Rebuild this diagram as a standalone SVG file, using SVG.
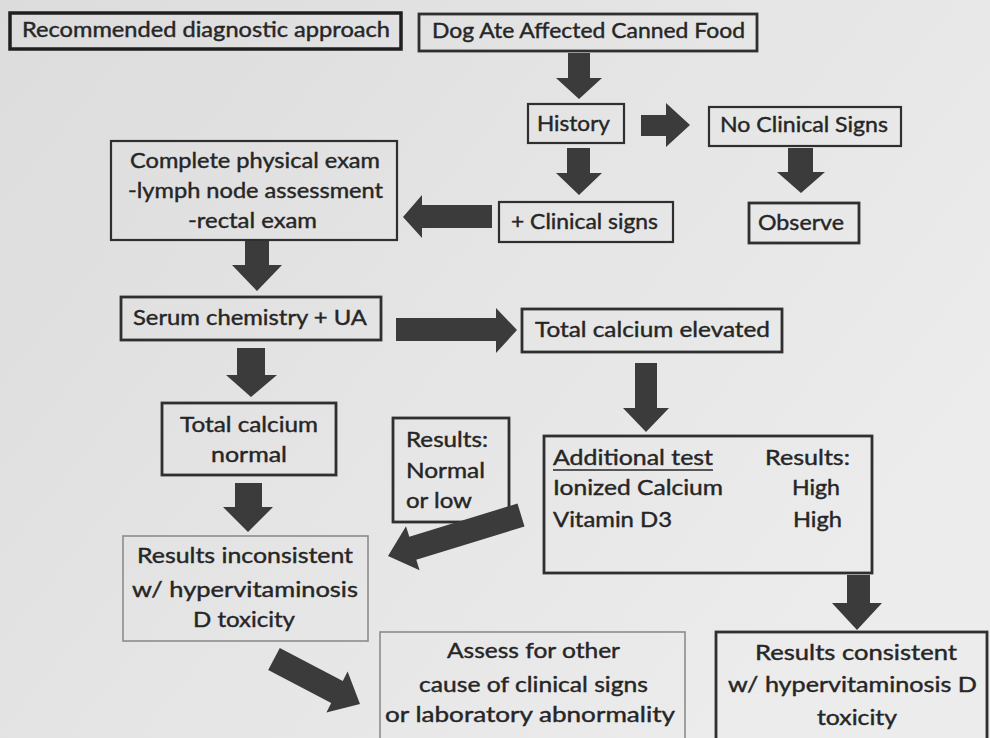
<svg xmlns="http://www.w3.org/2000/svg" width="990" height="738" viewBox="0 0 990 738">
<defs>
<linearGradient id="bg" x1="0" y1="0" x2="1" y2="0.6">
<stop offset="0" stop-color="#dcdcdc"/>
<stop offset="0.6" stop-color="#e6e6e6"/>
<stop offset="1" stop-color="#ececec"/>
</linearGradient>
<style>
.box{fill:none;stroke:#2f2f2f;stroke-width:2.2}
.thick{stroke-width:3.5;stroke:#1f1f1f}
.med{stroke-width:2.8}
.light{stroke:#8c8c8c;stroke-width:1.6}
.t{font-family:Lato,"Liberation Sans",sans-serif;font-size:20.5px;fill:#262626;stroke:#262626;stroke-width:0.4}
.c{text-anchor:middle}
.arr{fill:#3b3b3b}
</style>
</defs>
<rect x="0" y="0" width="990" height="738" fill="url(#bg)"/>

<g id="n-recommended">
<rect class="box thick" x="10" y="13" width="391" height="36"/>
<text class="t c" x="206" y="37" textLength="368" lengthAdjust="spacingAndGlyphs">Recommended diagnostic approach</text>
</g>
<g id="n-dog">
<rect class="box med" x="419" y="14" width="338" height="37"/>
<text class="t c" x="588.5" y="38" textLength="313" lengthAdjust="spacingAndGlyphs">Dog Ate Affected Canned Food</text>
</g>
<g id="n-history">
<rect class="box" x="528" y="104" width="96" height="39"/>
<text class="t c" x="573.5" y="131" textLength="73" lengthAdjust="spacingAndGlyphs">History</text>
</g>
<g id="n-noclinical">
<rect class="box" x="709" y="107" width="192" height="39"/>
<text class="t c" x="804" y="132" textLength="168" lengthAdjust="spacingAndGlyphs">No Clinical Signs</text>
</g>
<g id="n-plusclinical">
<rect class="box" x="499" y="202" width="174" height="40"/>
<text class="t c" x="584.5" y="229" textLength="147" lengthAdjust="spacingAndGlyphs">+ Clinical signs</text>
</g>
<g id="n-observe">
<rect class="box med" x="749" y="203" width="110" height="40"/>
<text class="t c" x="801" y="230" textLength="86" lengthAdjust="spacingAndGlyphs">Observe</text>
</g>
<g id="n-physical">
<rect class="box" x="111" y="141" width="286" height="99"/>
<text class="t c" x="255" y="168" textLength="250" lengthAdjust="spacingAndGlyphs">Complete physical exam</text>
<text class="t c" x="255.5" y="198" textLength="255" lengthAdjust="spacingAndGlyphs">-lymph node assessment</text>
<text class="t c" x="252.5" y="228" textLength="129" lengthAdjust="spacingAndGlyphs">-rectal exam</text>
</g>
<g id="n-serum">
<rect class="box med" x="121" y="297" width="260" height="43"/>
<text class="t c" x="250" y="325" textLength="234" lengthAdjust="spacingAndGlyphs">Serum chemistry + UA</text>
</g>
<g id="n-elevated">
<rect class="box med" x="522" y="309" width="260" height="43"/>
<text class="t c" x="652.5" y="337" textLength="235" lengthAdjust="spacingAndGlyphs">Total calcium elevated</text>
</g>
<g id="n-normal">
<rect class="box med" x="162" y="403" width="174" height="72"/>
<text class="t c" x="249" y="432" textLength="138" lengthAdjust="spacingAndGlyphs">Total calcium</text>
<text class="t c" x="249" y="462" textLength="76" lengthAdjust="spacingAndGlyphs">normal</text>
</g>
<g id="n-normallow">
<rect class="box med" x="393" y="418" width="116" height="104"/>
<text class="t" x="406" y="447" textLength="82" lengthAdjust="spacingAndGlyphs">Results:</text>
<text class="t" x="406" y="478" textLength="79" lengthAdjust="spacingAndGlyphs">Normal</text>
<text class="t" x="406" y="508" textLength="66" lengthAdjust="spacingAndGlyphs">or low</text>
</g>
<g id="n-additional">
<rect class="box med" x="544" y="436" width="328" height="137"/>
<text class="t" x="553" y="465" textLength="160" lengthAdjust="spacingAndGlyphs">Additional test</text>
<line x1="553" y1="470" x2="713" y2="470" stroke="#262626" stroke-width="1.6"/>
<text class="t" x="765" y="465" textLength="85" lengthAdjust="spacingAndGlyphs">Results:</text>
<text class="t" x="553" y="495" textLength="170" lengthAdjust="spacingAndGlyphs">Ionized Calcium</text>
<text class="t" x="792" y="495" textLength="48" lengthAdjust="spacingAndGlyphs">High</text>
<text class="t" x="553" y="527" textLength="119" lengthAdjust="spacingAndGlyphs">Vitamin D3</text>
<text class="t" x="793" y="527" textLength="49" lengthAdjust="spacingAndGlyphs">High</text>
</g>
<g id="n-inconsistent">
<rect class="box light" x="123" y="536" width="245" height="105"/>
<text class="t c" x="245" y="563" textLength="216" lengthAdjust="spacingAndGlyphs">Results inconsistent</text>
<text class="t c" x="245" y="597" textLength="226" lengthAdjust="spacingAndGlyphs">w/ hypervitaminosis</text>
<text class="t c" x="244" y="627" textLength="102" lengthAdjust="spacingAndGlyphs">D toxicity</text>
</g>
<g id="n-assess">
<rect class="box light" x="380" y="632" width="305" height="120"/>
<text class="t c" x="533.5" y="658" textLength="173" lengthAdjust="spacingAndGlyphs">Assess for other</text>
<text class="t c" x="533.5" y="692" textLength="229" lengthAdjust="spacingAndGlyphs">cause of clinical signs</text>
<text class="t c" x="530" y="722" textLength="290" lengthAdjust="spacingAndGlyphs">or laboratory abnormality</text>
</g>
<g id="n-consistent">
<rect class="box med" x="716" y="632" width="271" height="120"/>
<text class="t c" x="856" y="660" textLength="202" lengthAdjust="spacingAndGlyphs">Results consistent</text>
<text class="t c" x="852.5" y="692" textLength="249" lengthAdjust="spacingAndGlyphs">w/ hypervitaminosis D</text>
<text class="t c" x="857" y="725" textLength="80" lengthAdjust="spacingAndGlyphs">toxicity</text>
</g>

<g id="connectors" class="arr">
<polygon points="568,53 590,53 590,78 602,78 579,99 556,78 568,78"/>
<polygon points="641,115 666,115 666,103 690,125 666,147 666,136 641,136"/>
<polygon points="567,148 590,148 590,173 602,173 579,195 556,173 567,173"/>
<polygon points="788,148 813,148 813,172 825,172 801,193 777,172 788,172"/>
<polygon points="492,205 422,205 422,195 403,217 422,238 422,228 492,228"/>
<polygon points="245,241 269,241 269,265 282,265 257,291 232,265 245,265"/>
<polygon points="396,318 496,318 496,308 517,330 496,353 496,341 396,341"/>
<polygon points="237,348 265,348 265,375 277,375 251,397 226,375 237,375"/>
<polygon points="635,363 657,363 657,408 669,408 646,432 623,408 635,408"/>
<polygon points="235,483 262,483 262,507 273,507 248,532 223,507 235,507"/>
<polygon points="847,575 870,575 870,603 882,603 857,630 832,603 847,603"/>
<polygon points="517.5,503.5 524.5,526.5 416.3,559.8 419.6,570.3 388,556 406,526.3 409.3,536.8"/>
<polygon points="279.8,647.9 342.8,680.9 347.6,671.6 360,704 326.4,712.4 331.2,703.1 268.2,670.1"/>
</g>
</svg>
